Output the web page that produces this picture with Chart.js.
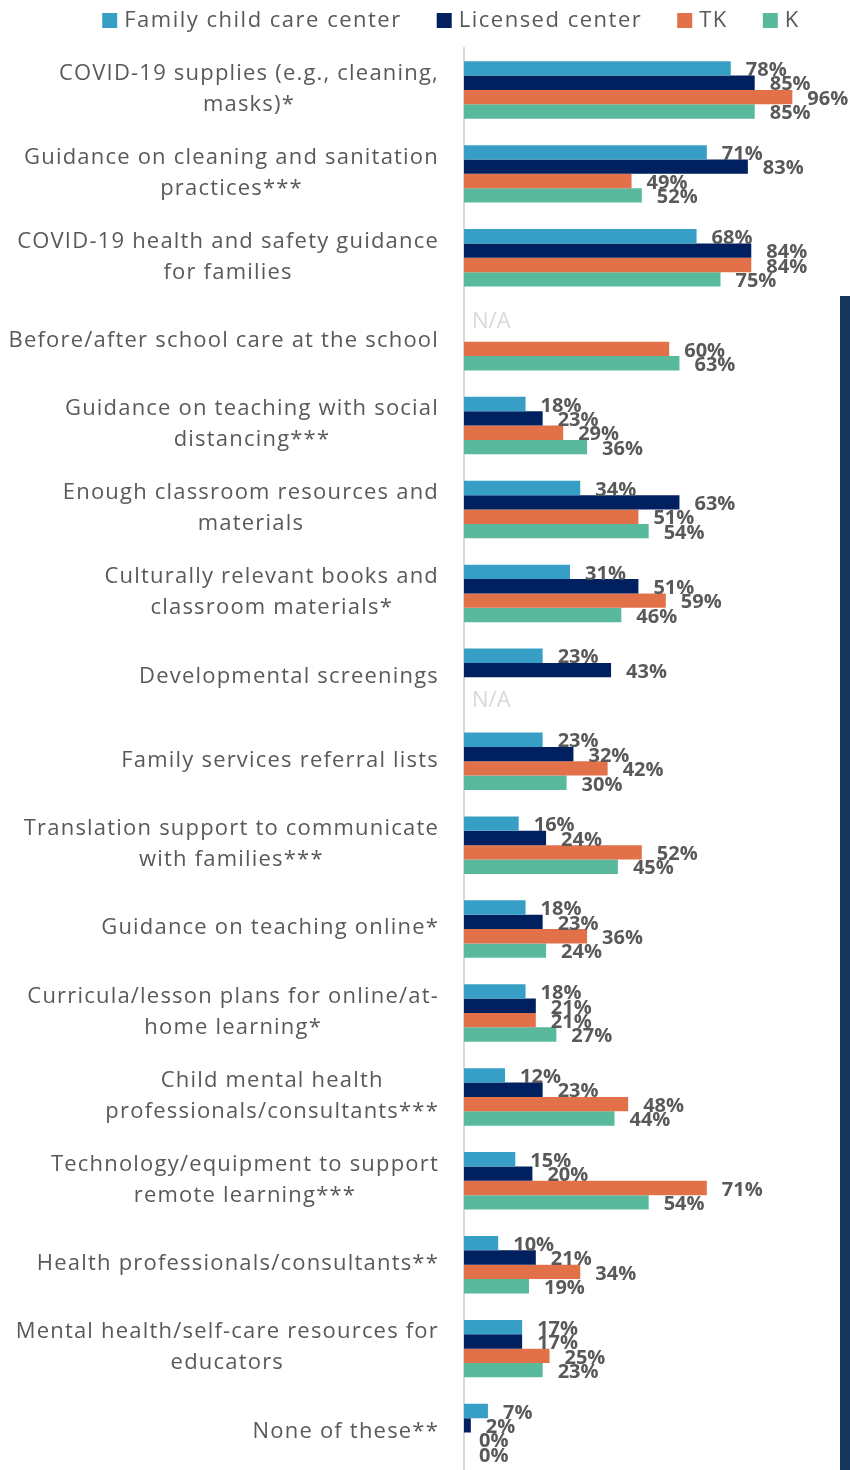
<!DOCTYPE html>
<html><head><meta charset="utf-8">
<script src="https://cdn.jsdelivr.net/npm/chart.js@4.4.0/dist/chart.umd.min.js"></script>
<style>html,body{margin:0;padding:0;background:#fff;overflow:hidden}canvas{display:block}</style>
</head><body>
<canvas id="c" width="850" height="1470"></canvas>
<script>
const categories = [
  ["COVID-19 supplies (e.g., cleaning,", "masks)*"],
  ["Guidance on cleaning and sanitation", "practices***"],
  ["COVID-19 health and safety guidance", "for families"],
  ["Before/after school care at the school"],
  ["Guidance on teaching with social", "distancing***"],
  ["Enough classroom resources and", "materials"],
  ["Culturally relevant books and", "classroom materials*"],
  ["Developmental screenings"],
  ["Family services referral lists"],
  ["Translation support to communicate", "with families***"],
  ["Guidance on teaching online*"],
  ["Curricula/lesson plans for online/at-", "home learning*"],
  ["Child mental health", "professionals/consultants***"],
  ["Technology/equipment to support", "remote learning***"],
  ["Health professionals/consultants**"],
  ["Mental health/self-care resources for", "educators"],
  ["None of these**"]
];
const seriesNames = ["Family child care center", "Licensed center", "TK", "K"];
const familyChildCare = [78, 71, 68, null, 18, 34, 31, 23, 23, 16, 18, 18, 12, 15, 10, 17, 7];
const licensedCenter  = [85, 83, 84, null, 23, 63, 51, 43, 32, 24, 23, 21, 23, 20, 21, 17, 2];
const tk              = [96, 49, 84, 60, 29, 51, 59, null, 42, 52, 36, 21, 48, 71, 34, 25, 0];
const kinder          = [85, 52, 75, 63, 36, 54, 46, null, 30, 45, 24, 27, 44, 54, 19, 23, 0];
const naMarks = [[3, 0], [7, 3]]; // [category index, series index] shown as "N/A"
const seriesColors = ["#379FC6", "#002060", "#E2714A", "#58B99C"];

const FONT = '"Open Sans", "DejaVu Sans", sans-serif';
const TEXT = "#595959";

const drawPlugin = {
  id: "custom",
  afterLayout(chart) {
    // the plot area runs slightly past the bottom edge of the picture
    const y = chart.scales.y;
    const bottom = chart.height + 4.5;
    chart.chartArea.bottom = bottom;
    chart.chartArea.height = bottom - chart.chartArea.top;
    y.bottom = bottom;
    y.height = bottom - y.top;
    y.configure();
  },
  afterDatasetsDraw(chart) {
    const ctx = chart.ctx;
    ctx.save();
    ctx.font = "bold 20px " + FONT;
    ctx.fillStyle = TEXT;
    ctx.textAlign = "left";
    ctx.textBaseline = "middle";
    chart.data.datasets.forEach((ds, di) => {
      const meta = chart.getDatasetMeta(di);
      meta.data.forEach((bar, i) => {
        const v = ds.data[i];
        if (v === null || v === undefined) return;
        ctx.fillText(v + "%", bar.x + 15, bar.y + 2);
      });
    });
    ctx.font = "22px " + FONT;
    ctx.fillStyle = "#D9D9D9";
    naMarks.forEach(([ci, si]) => {
      const bar = chart.getDatasetMeta(si).data[ci];
      ctx.fillText("N/A", chart.chartArea.left + 8, bar.y + 2);
    });
    ctx.restore();
  },
  afterDraw(chart) {
    const ctx = chart.ctx;
    const ys = chart.scales.y;
    ctx.save();
    ctx.font = "22px " + FONT;
    ctx.letterSpacing = "1.2px";
    ctx.fillStyle = TEXT;
    ctx.textAlign = "center";
    ctx.textBaseline = "middle";
    const rightEdge = 439;
    categories.forEach((lines, i) => {
      const cy = ys.getPixelForValue(i) - 1;
      const maxW = Math.max(...lines.map(l => ctx.measureText(l).width));
      const cx = rightEdge - maxW / 2;
      const lh = 31;
      lines.forEach((l, j) => {
        ctx.fillText(l, cx, cy + (j - (lines.length - 1) / 2) * lh);
      });
    });
    ctx.letterSpacing = "1.5px";
    ctx.textAlign = "left";
    const widths = seriesNames.map(n => ctx.measureText(n).width);
    const box = 15, gapBox = 7, gapItem = 35;
    const total = widths.reduce((a, w) => a + box + gapBox + w, 0) + gapItem * (seriesNames.length - 1);
    let x = 451 - total / 2;
    seriesNames.forEach((n, i) => {
      ctx.fillStyle = seriesColors[i];
      ctx.fillRect(x, 13, box, box);
      ctx.fillStyle = TEXT;
      ctx.fillText(n, x + box + gapBox, 21);
      x += box + gapBox + widths[i] + gapItem;
    });
    ctx.letterSpacing = "0px";
    ctx.fillStyle = "#17375E";
    ctx.fillRect(840, 296, 10, chart.height - 296);
    ctx.restore();
  }
};

const datasets = [familyChildCare, licensedCenter, tk, kinder].map((d, i) => ({
  label: seriesNames[i],
  data: d,
  backgroundColor: seriesColors[i],
  borderWidth: 0,
  categoryPercentage: 0.685,
  barPercentage: 1.0
}));

new Chart(document.getElementById("c"), {
  type: "bar",
  data: { labels: categories.map(c => c.join(" ")), datasets },
  options: {
    indexAxis: "y",
    responsive: false,
    animation: false,
    devicePixelRatio: 1,
    layout: { padding: { top: 48, right: 44, left: 0, bottom: 0 } },
    plugins: { legend: { display: false }, tooltip: { enabled: false }, title: { display: false } },
    scales: {
      x: { display: false, min: 0, max: 100 },
      y: {
        display: true,
        ticks: { display: false },
        grid: { display: false },
        border: { display: true, color: "#D9D9D9", width: 2 },
        afterFit(s) { s.width = 464; }
      }
    }
  },
  plugins: [drawPlugin]
});
</script>
</body></html>
